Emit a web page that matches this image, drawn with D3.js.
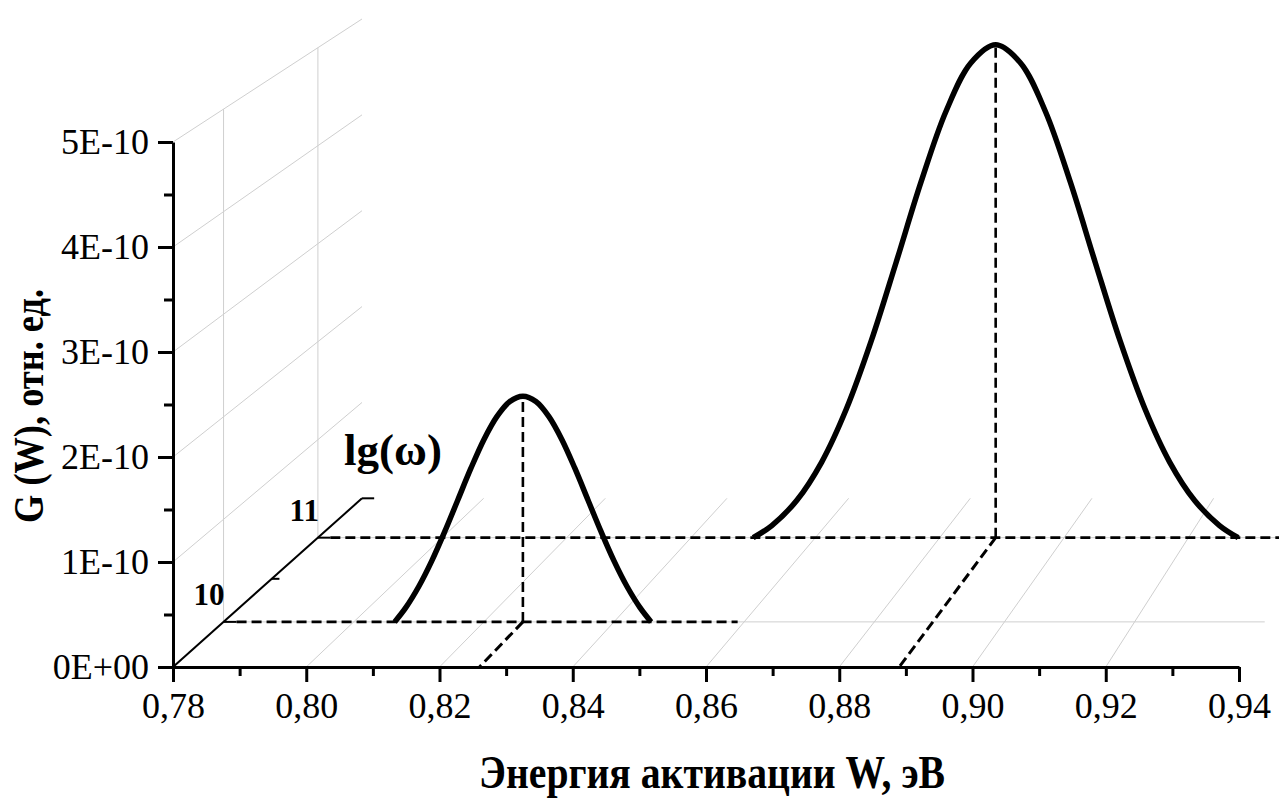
<!DOCTYPE html>
<html>
<head>
<meta charset="utf-8">
<script src="https://cdn.jsdelivr.net/npm/d3@7"></script>
<style>
  html, body { margin: 0; padding: 0; background: #fff; }
  svg { display: block; }
  text { font-family: 'Liberation Serif', 'Times New Roman', serif; }
</style>
</head>
<body>
<svg id="chart" width="1279" height="805"></svg>
<script>
// ---------------- data ----------------
const wTicks = [0.78, 0.80, 0.82, 0.84, 0.86, 0.88, 0.90, 0.92, 0.94];
const wTickLabels = ["0,78", "0,80", "0,82", "0,84", "0,86", "0,88", "0,90", "0,92", "0,94"];
const wMinor = [0.79, 0.81, 0.83, 0.85, 0.87, 0.89, 0.91, 0.93];
const gTicks = [0, 1e-10, 2e-10, 3e-10, 4e-10, 5e-10];
const gTickLabels = ["0E+00", "1E-10", "2E-10", "3E-10", "4E-10", "5E-10"];
const gMinor = [0.5e-10, 1.5e-10, 2.5e-10, 3.5e-10, 4.5e-10];
const depthTicks = [10, 11];
const depthTickLabels = ["10", "11"];
const depthMinor = [10.5];
const depthRange = [9.5, 11.5];

// curve at lg(omega) = 10
const curve10W = [0.8063, 0.808, 0.810, 0.812, 0.814, 0.816, 0.818, 0.820, 0.822, 0.824, 0.826,
                  0.828, 0.830, 0.832, 0.834, 0.836, 0.838, 0.840, 0.842, 0.844, 0.8457];
const curve10G = [0, 0.139e-10, 0.345e-10, 0.595e-10, 0.882e-10, 1.189e-10, 1.496e-10, 1.777e-10, 2.002e-10, 2.149e-10, 2.20e-10,
                  2.149e-10, 2.002e-10, 1.777e-10, 1.496e-10, 1.189e-10, 0.882e-10, 0.595e-10, 0.345e-10, 0.139e-10, 0];
// curve at lg(omega) = 11
const curve11W = [0.850, 0.853, 0.857, 0.861, 0.865, 0.869, 0.873, 0.877, 0.881, 0.885, 0.889,
                  0.893, 0.897, 0.901, 0.905, 0.909, 0.913, 0.917, 0.921, 0.925, 0.928];
const curve11G = [0, 0.124e-10, 0.379e-10, 0.769e-10, 1.315e-10, 2.010e-10, 2.811e-10, 3.630e-10, 4.349e-10, 4.844e-10, 5.03e-10,
                  4.844e-10, 4.349e-10, 3.630e-10, 2.811e-10, 2.010e-10, 1.315e-10, 0.769e-10, 0.379e-10, 0.124e-10, 0];

const peakW = [0.826, 0.889];
const peakG = [2.20e-10, 5.03e-10];
const peakL = [10, 11];
const baseEndW = [0.859, 0.94];

// ---------------- scales & projection ----------------
const svg = d3.select("#chart");
const frontX = d3.scaleLinear().domain([0.78, 0.94]).range([173, 1239]);
const frontY = d3.scaleLinear().domain([0, 5e-10]).range([667, 142]);
const depthS = d3.scaleLinear().domain(depthRange).range([0, 1]);
const DX = 223.5, DY = -121.2, PERSP = 0.0953;

function project(w, g, l) {
  const z = depthS(l);
  const k = 1 + PERSP * z;
  return [(frontX(w) + DX * z) / k, (frontY(g) + DY * z) / k];
}
const seg = (a, b) => "M" + a[0] + "," + a[1] + "L" + b[0] + "," + b[1];

const gridG = svg.append("g").attr("stroke", "#cfcfcf").attr("stroke-width", 1).attr("fill", "none");
// wall horizontal lines
gridG.selectAll(".wallH").data(gTicks.slice(1)).enter().append("path")
  .attr("d", g => seg(project(0.78, g, depthRange[0]), project(0.78, g, depthRange[1])));
// wall vertical lines
gridG.selectAll(".wallV").data(depthTicks).enter().append("path")
  .attr("d", l => seg(project(0.78, 0, l), project(0.78, 5e-10, l)));
// floor lines along depth
gridG.selectAll(".floorZ").data(wTicks.slice(1, -1)).enter().append("path")
  .attr("d", w => seg(project(w, 0, depthRange[0]), project(w, 0, depthRange[1])));
// floor lines along W
gridG.selectAll(".floorX").data(depthTicks).enter().append("path")
  .attr("d", l => seg(project(0.78, 0, l), project(0.94, 0, l)));

// depth axis
const dAx = svg.append("g").attr("stroke", "#000").attr("fill", "none");
dAx.append("path").attr("stroke-width", 2)
  .attr("d", seg(project(0.78, 0, depthRange[0]), project(0.78, 0, depthRange[1])));
dAx.selectAll(".dt").data(depthTicks.concat([depthRange[1]])).enter().append("path")
  .attr("stroke-width", 2)
  .attr("d", l => seg(project(0.78, 0, l), project(0.782, 0, l)));
dAx.selectAll(".dtm").data(depthMinor).enter().append("path")
  .attr("stroke-width", 2)
  .attr("d", l => seg(project(0.78, 0, l), project(0.7812, 0, l)));

svg.selectAll(".dlab").data(depthTicks).enter().append("text")
  .attr("x", l => project(0.78, 0, l)[0] + 1)
  .attr("y", l => project(0.78, 0, l)[1] - 17)
  .attr("text-anchor", "end").attr("font-weight", "bold").attr("font-size", 31)
  .text((l, i) => depthTickLabels[i]);

svg.append("text").attr("x", 344).attr("y", 465)
  .attr("font-weight", "bold").attr("font-size", 45).text("lg(ω)");

// dashed guide lines
const dash = svg.append("g").attr("stroke", "#000").attr("stroke-width", 2.6)
  .attr("fill", "none").attr("stroke-dasharray", "10,5");
dash.selectAll(".bl").data(peakL).enter().append("path")
  .attr("d", (l, i) => seg(project(0.782, 0, l), project(baseEndW[i], 0, l)));
dash.selectAll(".vl").data(peakL).enter().append("path")
  .attr("d", (l, i) => seg(project(peakW[i], 0, l), project(peakW[i], peakG[i], l)));
dash.selectAll(".zl").data(peakL).enter().append("path")
  .attr("stroke-width", 3)
  .attr("d", (l, i) => seg(project(peakW[i], 0, l), project(peakW[i], 0, depthRange[0])));

// front axes
const xAxis = svg.append("g").attr("transform", "translate(0,667)")
  .call(d3.axisBottom(frontX).tickValues(wTicks).tickSize(15).tickSizeOuter(0)
    .tickFormat((d, i) => wTickLabels[i]));
svg.append("g").attr("transform", "translate(0,667)")
  .call(d3.axisBottom(frontX).tickValues(wMinor).tickSize(9).tickSizeOuter(0).tickFormat(""))
  .select(".domain").remove();
const yAxis = svg.append("g").attr("transform", "translate(173,0)")
  .call(d3.axisLeft(frontY).tickValues(gTicks).tickSize(15).tickSizeOuter(0)
    .tickFormat((d, i) => gTickLabels[i]));
svg.append("g").attr("transform", "translate(173,0)")
  .call(d3.axisLeft(frontY).tickValues(gMinor).tickSize(9).tickSizeOuter(0).tickFormat(""))
  .select(".domain").remove();

svg.selectAll(".domain, .tick line").attr("stroke", "#000").attr("stroke-width", 3);
xAxis.selectAll(".tick text").attr("y", 51).attr("dy", 0)
  .attr("font-size", 36).attr("font-family", "'Liberation Serif', serif").attr("fill", "#000");
yAxis.selectAll(".tick text").attr("x", -24)
  .attr("font-size", 36).attr("font-family", "'Liberation Serif', serif").attr("fill", "#000");

// curves
const line = d3.line().curve(d3.curveCatmullRom.alpha(0.5));
const curves = [
  { w: curve10W, g: curve10G, l: 10 },
  { w: curve11W, g: curve11G, l: 11 }
];
svg.selectAll(".curve").data(curves).enter().append("path")
  .attr("fill", "none").attr("stroke", "#000").attr("stroke-width", 5.5)
  .attr("d", c => line(c.w.map((w, i) => project(w, c.g[i], c.l))));

// axis titles
svg.append("text").attr("x", 712).attr("y", 788).attr("text-anchor", "middle")
  .attr("font-weight", "bold").attr("font-size", 46)
  .attr("textLength", 466).attr("lengthAdjust", "spacingAndGlyphs")
  .text("Энергия активации W, эВ");
svg.append("text").attr("transform", "translate(43,406) rotate(-90)").attr("text-anchor", "middle")
  .attr("font-weight", "bold").attr("font-size", 42)
  .attr("textLength", 234).attr("lengthAdjust", "spacingAndGlyphs")
  .text("G (W), отн. ед.");
</script>
</body>
</html>
